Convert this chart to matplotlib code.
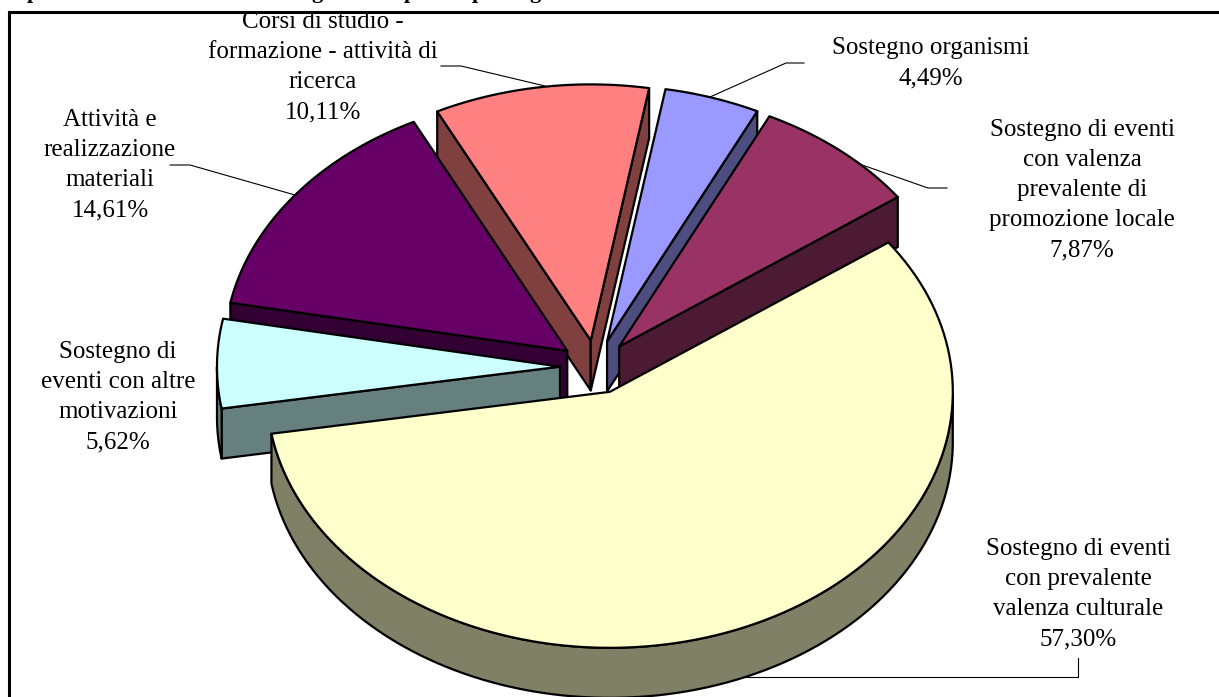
import numpy as np
import matplotlib
matplotlib.use("Agg")
import matplotlib.pyplot as plt
from matplotlib.patches import Polygon

# clockwise from the big slice
labels = ["Sostegno di eventi\ncon prevalente\nvalenza culturale",
          "Sostegno di\neventi con altre\nmotivazioni",
          "Attività e\nrealizzazione\nmateriali",
          "Corsi di studio -\nformazione - attività di\nricerca",
          "Sostegno organismi",
          "Sostegno di eventi\ncon valenza\nprevalente di\npromozione locale"]
values = [57.30, 5.62, 14.61, 10.11, 4.49, 7.87]
pct_labels = ["57,30%", "5,62%", "14,61%", "10,11%", "4,49%", "7,87%"]
top_colors = ["#FFFFCC", "#CCFFFF", "#660066", "#FF8080", "#9999FF", "#993366"]
side_colors = ["#808066", "#668080", "#330033", "#804040", "#4D4D80", "#4D1A33"]

# layout in pixels
cx, cy = 596, 367
rx, ry = 343, 256
depth = 50
explode = 0.105
start_angle = 35.7
label_pos = [(1078, 594), (118, 397), (110, 165), (323, 67), (931, 63), (1082, 190)]
leaders = [[(1078, 658), (1078, 677), (745, 677)],
           [],
           [(170, 165), (190, 165), (295, 195)],
           [(441, 66), (461, 66), (545, 86)],
           [(804, 63), (786, 63), (710, 97)],
           [(947, 188), (928, 188), (825, 152)]]
# only the bottoms of the title letters are left in the picture
title_bits = [("p", 33), ("g", 317), ("p", 410), ("p", 478), ("g", 535)]

fig = plt.figure(figsize=(12.19, 6.97), dpi=100)
ax = fig.add_axes([0, 0, 1, 1])
ax.set_xlim(0, 1219)
ax.set_ylim(697, 0)
ax.axis("off")

ax.plot([9, 9, 1219], [697, 12, 12], color="black", lw=2.2, solid_joinstyle="miter")
for s, x in title_bits:
    ax.text(x, -2, s, family="Liberation Serif", weight="bold", fontsize=16,
            ha="center", va="baseline", clip_on=True)

for pts in leaders:
    if pts:
        ax.plot([p[0] for p in pts], [p[1] for p in pts], color="black", lw=0.8, zorder=1)

def rim(ox, oy, t):
    return ox + rx * np.cos(np.radians(t)), oy - ry * np.sin(np.radians(t))

def draw_slice(ox, oy, t1, t2, top, side, z):
    # t1 is the counterclockwise edge, t2 the clockwise edge, t1 > t2
    ts = np.linspace(t1, t2, 120)
    xs, ys = rim(ox, oy, ts)
    kw = dict(ec="black", lw=1.6, joinstyle="round", zorder=z)
    # flat walls, only the ones turned to the viewer
    if np.cos(np.radians(t1)) < 0:
        x1, y1 = rim(ox, oy, t1)
        ax.add_patch(Polygon([(ox, oy), (x1, y1), (x1, y1 + depth), (ox, oy + depth)], fc=side, **kw))
    if np.cos(np.radians(t2)) > 0:
        x2, y2 = rim(ox, oy, t2)
        ax.add_patch(Polygon([(ox, oy), (x2, y2), (x2, y2 + depth), (ox, oy + depth)], fc=side, **kw))
    # outer wall, lower half of the ellipse only
    low = np.sin(np.radians(ts)) < 0
    if low.any():
        rx_pts = np.column_stack([xs[low], ys[low]])
        wall = np.vstack([rx_pts, (rx_pts + [0, depth])[::-1]])
        ax.add_patch(Polygon(wall, fc=side, **kw))
    ax.add_patch(Polygon(np.vstack([[ox, oy], np.column_stack([xs, ys])]), fc=top, **kw))

angles = start_angle - np.concatenate([[0], np.cumsum(values)]) * 3.6
slices = []
for i in range(len(values)):
    t1, t2 = angles[i], angles[i + 1]
    mid = np.radians((t1 + t2) / 2)
    ox = cx + explode * rx * np.cos(mid)
    oy = cy - explode * ry * np.sin(mid)
    slices.append((oy, ox, t1, t2, top_colors[i], side_colors[i]))

# back to front
for n, (oy, ox, t1, t2, top, side) in enumerate(sorted(slices, key=lambda s: s[0])):
    draw_slice(ox, oy, t1, t2, top, side, 2 + n)

for lab, pct, (x, y) in zip(labels, pct_labels, label_pos):
    ax.text(x, y, lab + "\n" + pct, family="Liberation Serif", fontsize=18, ha="center",
            va="center", linespacing=1.48, color="black", zorder=20)

fig.savefig("out.png", dpi=100)
